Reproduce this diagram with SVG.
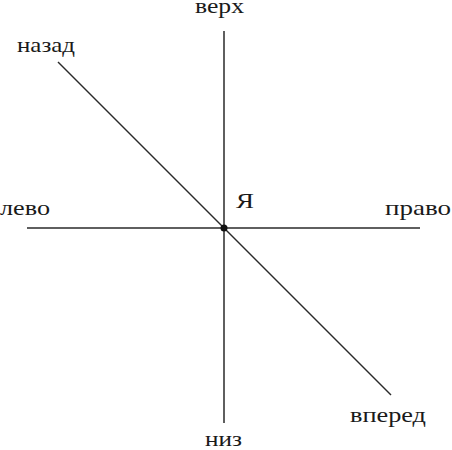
<svg xmlns="http://www.w3.org/2000/svg" width="452" height="450" viewBox="0 0 452 450">
<style>
.ax{stroke:#2a2a2a;stroke-width:1.5;fill:none}
.lb{font-family:"Liberation Serif","DejaVu Serif",serif;font-size:22px;fill:#1a1a1a}
</style>
<rect width="452" height="450" fill="#fff"/>
<g id="connectors">
<line class="ax" x1="224" y1="31" x2="224" y2="423"/>
<line class="ax" x1="27" y1="228" x2="420" y2="228"/>
<line class="ax" x1="58" y1="62" x2="391" y2="395"/>
</g>
<g id="center"><circle cx="224" cy="228" r="3.5" fill="#111"/><text class="lb" x="236" y="208" textLength="18" lengthAdjust="spacingAndGlyphs">Я</text></g>
<g id="up"><text class="lb" x="195" y="13" textLength="49" lengthAdjust="spacingAndGlyphs">верх</text></g>
<g id="down"><text class="lb" x="205" y="446" textLength="37" lengthAdjust="spacingAndGlyphs">низ</text></g>
<g id="left"><text class="lb" x="0" y="215" textLength="50" lengthAdjust="spacingAndGlyphs">лево</text></g>
<g id="right"><text class="lb" x="385" y="215" textLength="66" lengthAdjust="spacingAndGlyphs">право</text></g>
<g id="back"><text class="lb" x="17" y="52" textLength="58" lengthAdjust="spacingAndGlyphs">назад</text></g>
<g id="forward"><text class="lb" x="350" y="422" textLength="76" lengthAdjust="spacingAndGlyphs">вперед</text></g>
</svg>
